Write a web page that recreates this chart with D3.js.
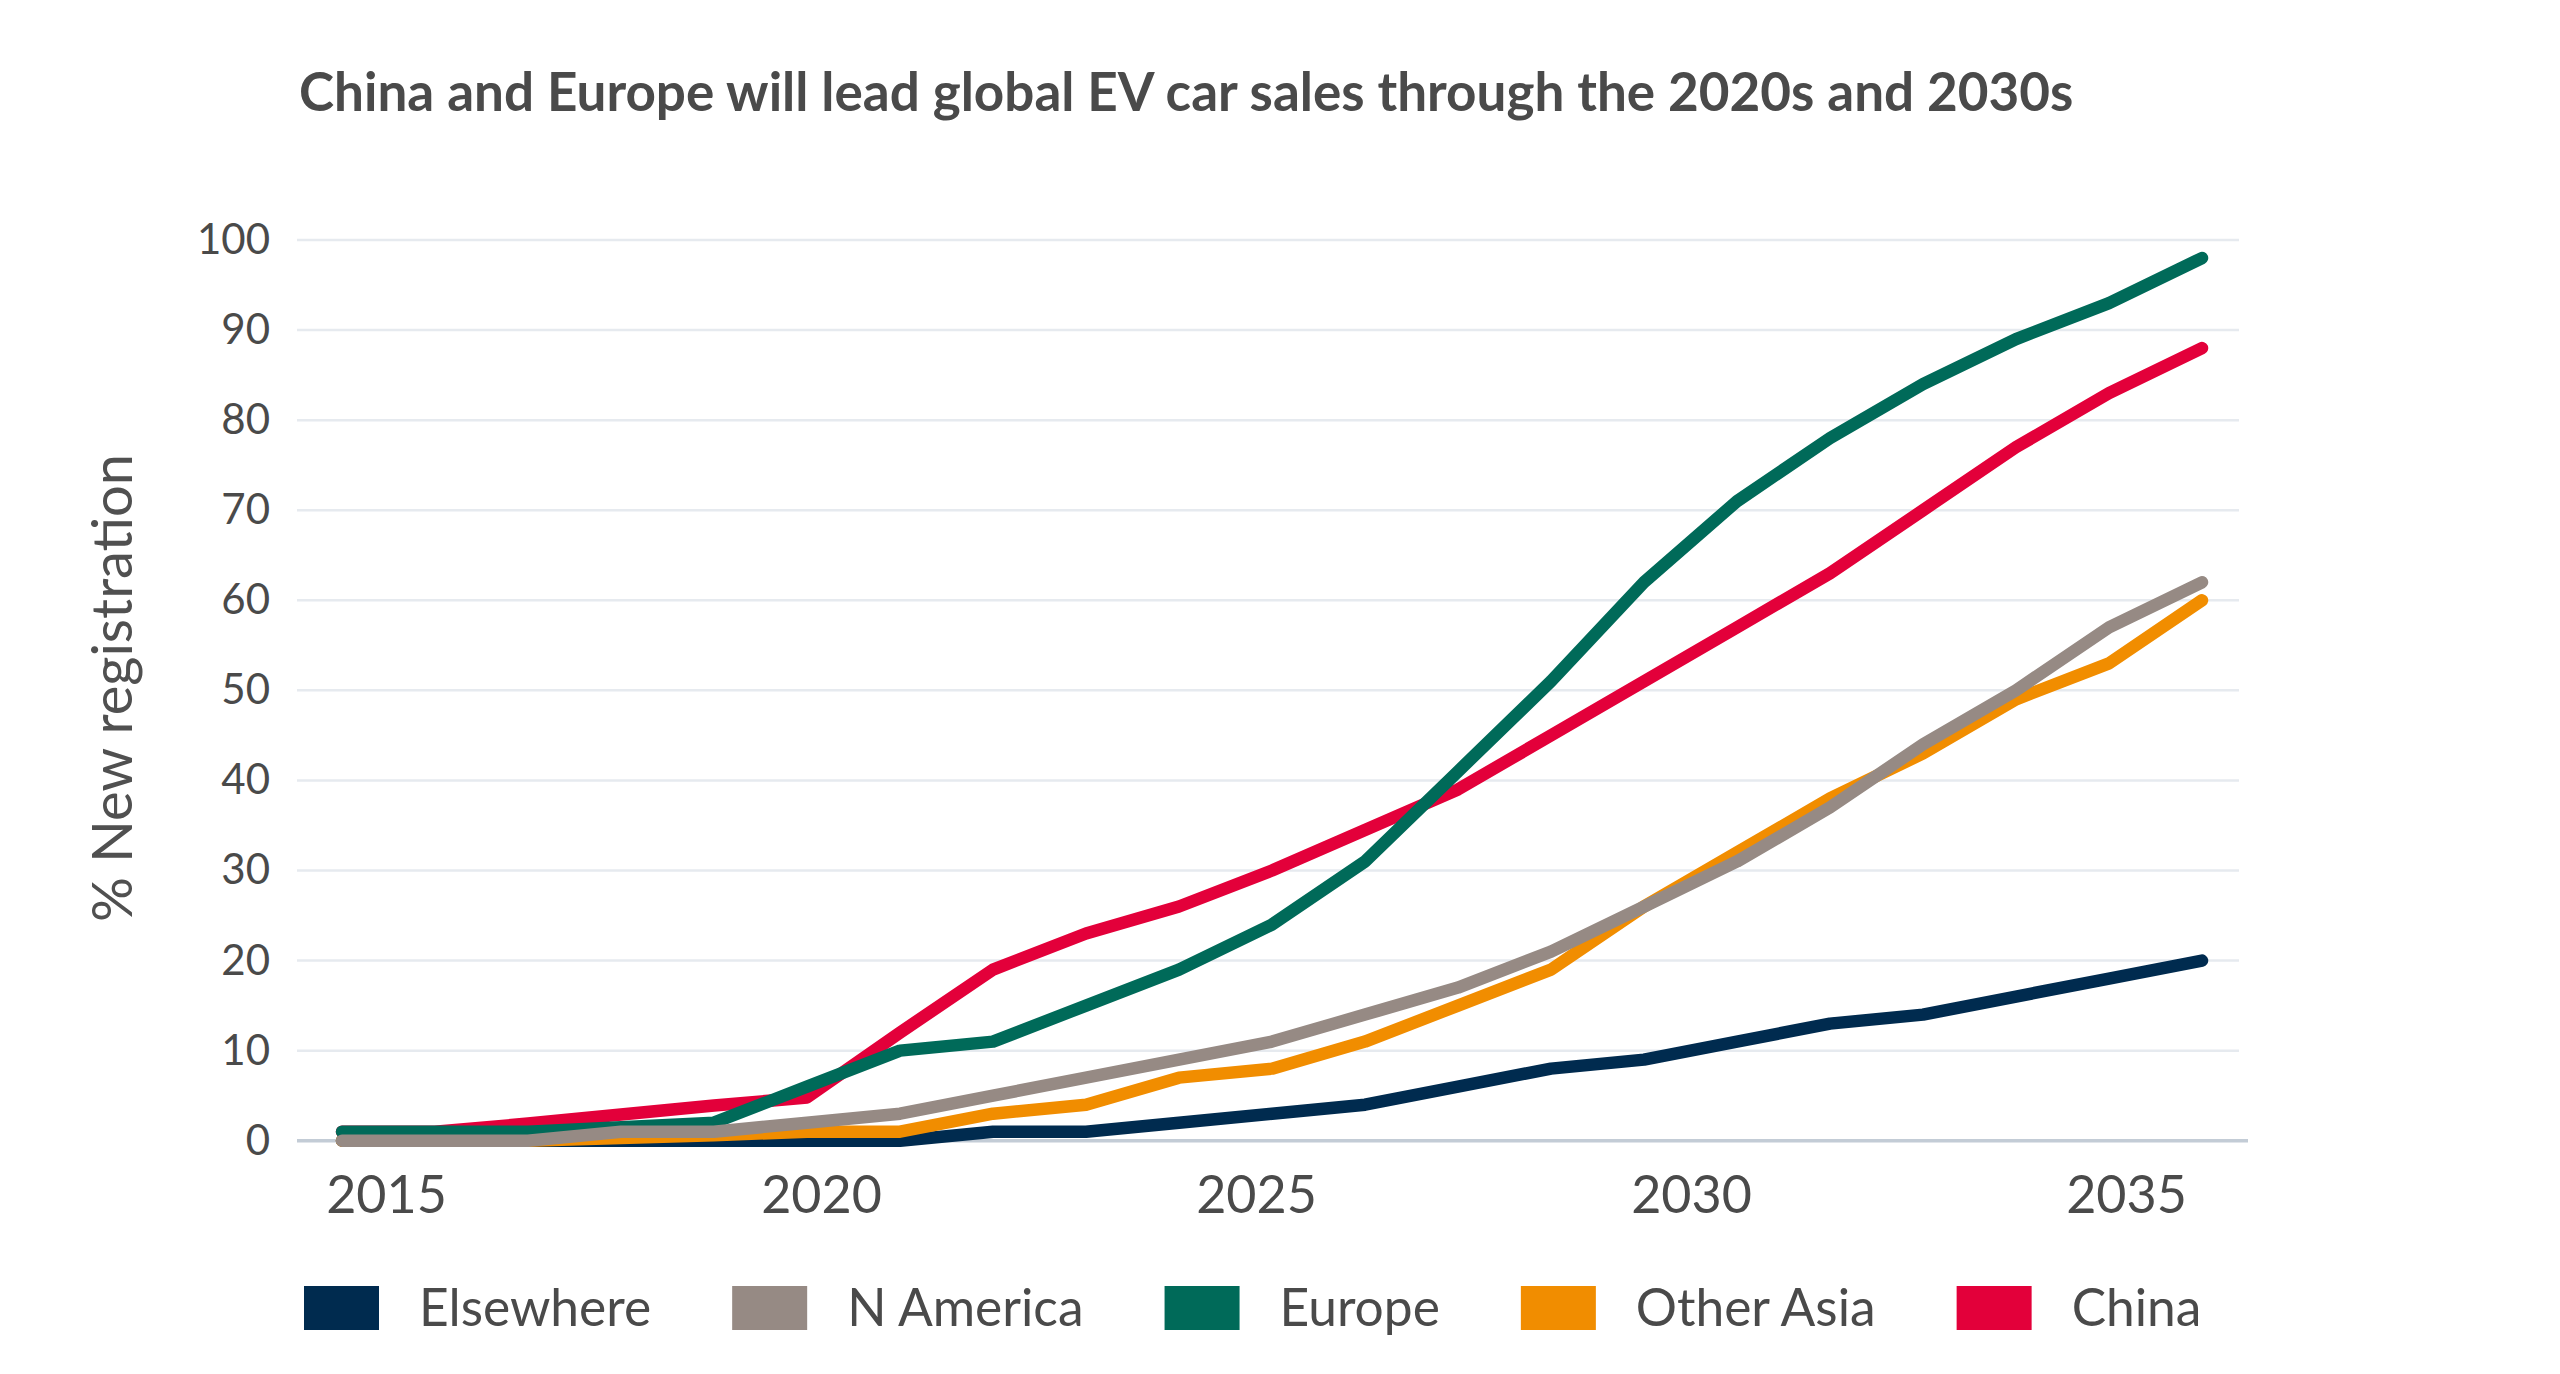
<!DOCTYPE html>
<html><head><meta charset="utf-8">
<script src="https://cdn.jsdelivr.net/npm/d3@7"></script>
<style>body{margin:0;background:#fff} text{font-family:Lato, "Open Sans", sans-serif}</style>
</head><body>
<svg id="chart" width="2560" height="1374"></svg>
<script>
// ---- data ----
const years = [2015,2016,2017,2018,2019,2020,2021,2022,2023,2024,2025,2026,2027,2028,2029,2030,2031,2032,2033,2034,2035];
const elsewhere = [0,0,0,0,0,0,0,1,1,2,3,4,6,8,9,11,13,14,16,18,20];
const nAmerica  = [0,0,0,1,1,2,3,5,7,9,11,14,17,21,26,31,37,44,50,57,62];
const europe    = [1,1,1,1.5,2,6,10,11,15,19,24,31,41,51,62,71,78,84,89,93,98];
const otherAsia = [0,0,0,0.3,0.6,1,1,3,4,7,8,11,15,19,26,32,38,43,49,53,60];
const china     = [1,1,1.9,2.9,3.9,4.8,12,19,23,26,30,34.5,39,45,51,57,63,70,77,83,88];
const yTicks = [0,10,20,30,40,50,60,70,80,90,100];
const xTickLabels = [2015,2020,2025,2030,2035];
const title = "China and Europe will lead global EV car sales through the 2020s and 2030s";
const yTitle = "% New registration";

const legendOrder = [
  {name:"Elsewhere", values:elsewhere, color:"#002b4f"},
  {name:"N America", values:nAmerica, color:"#968a84"},
  {name:"Europe", values:europe, color:"#006a59"},
  {name:"Other Asia", values:otherAsia, color:"#f18d00"},
  {name:"China", values:china, color:"#e3003a"}
];
const drawOrder = ["Elsewhere","Other Asia","China","Europe","N America"];

// ---- layout ----
const svg = d3.select("#chart");
const plotL = 297, plotR = 2239, axisR = 2248;
const x = d3.scaleLinear().domain([2015,2035]).range([342,2202]);
const xLab = d3.scaleLinear().domain([2015,2035]).range([386,2126]);
const y = d3.scaleLinear().domain([0,100]).range([1140.7,240]);

// gridlines
svg.append("g").selectAll("line").data(yTicks.filter(d=>d>0)).join("line")
  .attr("x1",plotL).attr("x2",plotR)
  .attr("y1",d=>y(d)).attr("y2",d=>y(d))
  .attr("stroke","#e6eaef").attr("stroke-width",2.5);
// baseline
svg.append("line").attr("x1",plotL).attr("x2",axisR).attr("y1",y(0)).attr("y2",y(0))
  .attr("stroke","#c3ccd6").attr("stroke-width",3.5);

// y axis
const yAx = svg.append("g").attr("transform",`translate(${plotL},0)`)
  .call(d3.axisLeft(y).tickValues(yTicks).tickSize(0).tickPadding(27).tickFormat(d3.format("d")));
yAx.select(".domain").remove();
yAx.selectAll("text").attr("font-size",42).attr("fill","#4a4a4a").style("font-family","Lato");

// x axis labels
const xAx = svg.append("g").attr("transform",`translate(0,${y(0)})`)
  .call(d3.axisBottom(xLab).tickValues(xTickLabels).tickSize(0).tickPadding(35).tickFormat(d3.format("d")));
xAx.select(".domain").remove();
xAx.selectAll("text").attr("font-size",52).attr("fill","#4a4a4a").style("font-family","Lato");

// lines
const line = d3.line().x((d,i)=>x(years[i])).y(d=>y(d));
const byName = Object.fromEntries(legendOrder.map(s=>[s.name,s]));
svg.append("g").selectAll("path").data(drawOrder.map(n=>byName[n])).join("path")
  .attr("d",s=>line(s.values)).attr("fill","none")
  .attr("stroke",s=>s.color).attr("stroke-width",12.5)
  .attr("stroke-linecap","round").attr("stroke-linejoin","round");

// title
const t = svg.append("text").attr("x",299).attr("y",111).attr("font-weight",700)
  .attr("fill","#4a4a4a").attr("font-size",100).text(title);
const tw = t.node().getComputedTextLength();
t.attr("font-size",100*1775/tw);

// y title
svg.append("text").attr("transform","translate(112,688) rotate(-90)")
  .attr("text-anchor","middle").attr("dy","0.35em")
  .attr("font-size",56).attr("fill","#505050").text(yTitle);

// legend
const lg = svg.append("g");
let lx = 304; const ly = 1308;
legendOrder.forEach(s=>{
  lg.append("rect").attr("x",lx).attr("y",ly-22).attr("width",75).attr("height",44).attr("fill",s.color);
  const tx = lg.append("text").attr("x",lx+75+40).attr("y",ly).attr("dy","0.35em")
    .attr("font-size",51.5).attr("fill","#4a4a4a").text(s.name);
  lx = lx+75+40+tx.node().getComputedTextLength()+81;
});
</script>
</body></html>
